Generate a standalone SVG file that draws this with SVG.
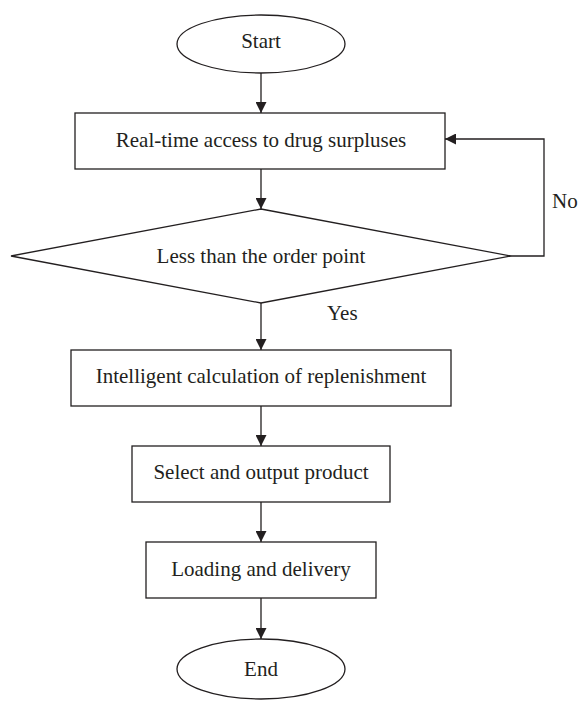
<svg xmlns="http://www.w3.org/2000/svg" width="578" height="701" viewBox="0 0 578 701">
<style>
.s{fill:#fff;stroke:#231f20;stroke-width:1.3}
.t{font-family:"Liberation Serif",serif;font-size:21px;fill:#231f20;text-anchor:middle}
.l{font-family:"Liberation Serif",serif;font-size:21px;fill:#231f20}
.c{fill:none;stroke:#231f20;stroke-width:1.3}
</style>
<defs>
<marker id="a" viewBox="0 0 10 10" refX="10" refY="5" markerWidth="11" markerHeight="11" markerUnits="userSpaceOnUse" orient="auto">
<path d="M0,0 L10,5 L0,10 Z" fill="#231f20"/>
</marker>
</defs>
<rect width="578" height="701" fill="#fff"/>
<g id="connectors">
<line class="c" x1="261" y1="73" x2="261" y2="113" marker-end="url(#a)"/>
<line class="c" x1="261" y1="169" x2="261" y2="209" marker-end="url(#a)"/>
<polyline class="c" points="511,256 544,256 544,139 445,139" marker-end="url(#a)"/>
<line class="c" x1="261" y1="303" x2="261" y2="350" marker-end="url(#a)"/>
<line class="c" x1="261" y1="406" x2="261" y2="446" marker-end="url(#a)"/>
<line class="c" x1="261" y1="502" x2="261" y2="542" marker-end="url(#a)"/>
<line class="c" x1="261" y1="598" x2="261" y2="639" marker-end="url(#a)"/>
<text class="l" x="552" y="208">No</text>
<text class="l" x="327" y="320">Yes</text>
</g>
<g id="start">
<ellipse class="s" cx="261" cy="44" rx="84" ry="29"/>
<text class="t" x="261" y="48">Start</text>
</g>
<g id="access">
<rect class="s" x="75" y="113" width="370" height="56"/>
<text class="t" x="261" y="147">Real-time access to drug surpluses</text>
</g>
<g id="decision">
<polygon class="s" points="261,209 511,256 261,303 11,256"/>
<text class="t" x="261" y="263">Less than the order point</text>
</g>
<g id="calc">
<rect class="s" x="71" y="350" width="380" height="56"/>
<text class="t" x="261" y="383">Intelligent calculation of replenishment</text>
</g>
<g id="select">
<rect class="s" x="132" y="446" width="258" height="56"/>
<text class="t" x="261" y="479">Select and output product</text>
</g>
<g id="loading">
<rect class="s" x="146" y="542" width="230" height="56"/>
<text class="t" x="261" y="576">Loading and delivery</text>
</g>
<g id="end">
<ellipse class="s" cx="261" cy="669" rx="84" ry="30"/>
<text class="t" x="261" y="676">End</text>
</g>
</svg>
